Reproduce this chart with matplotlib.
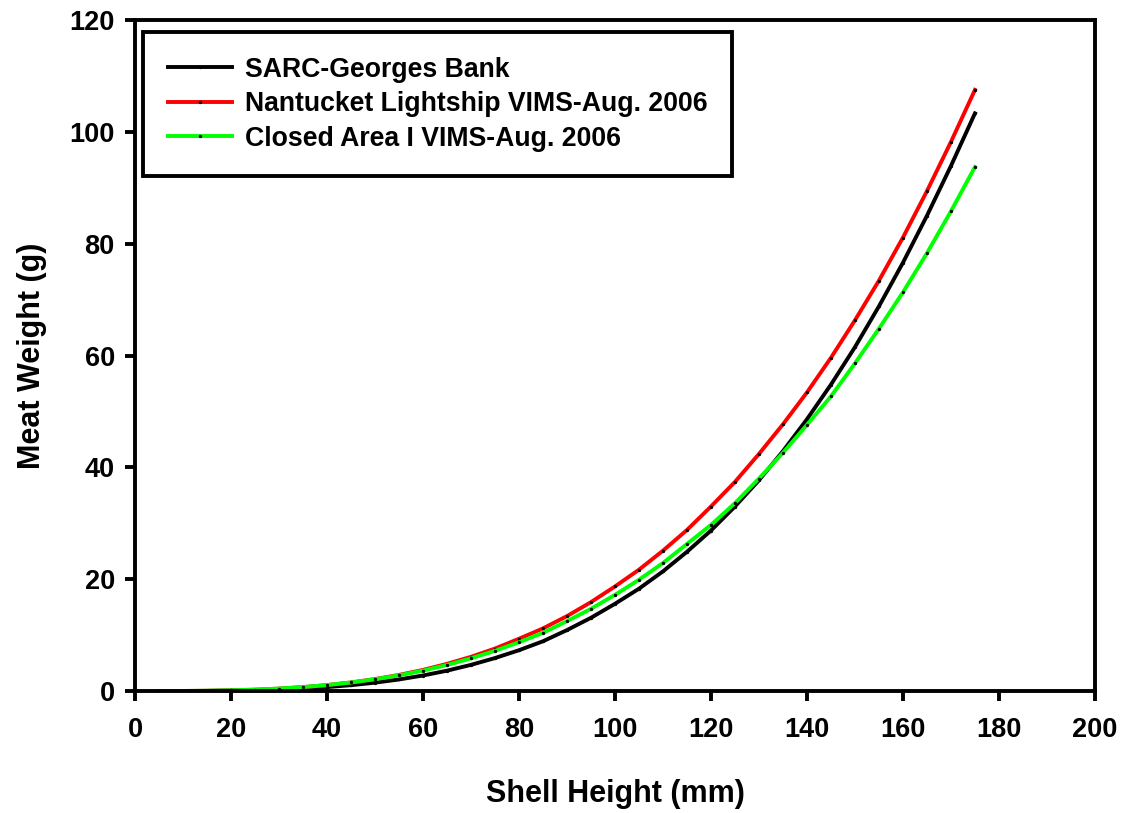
import matplotlib
matplotlib.use("Agg")
from matplotlib import pyplot as plt

plt.rcParams['font.family'] = ['Liberation Sans', 'DejaVu Sans']
plt.rcParams['font.weight'] = 'bold'

# shell height (mm)
height = [5, 10, 15, 20, 25, 30, 35, 40, 45, 50, 55, 60, 65, 70, 75, 80, 85, 90,
          95, 100, 105, 110, 115, 120, 125, 130, 135, 140, 145, 150, 155, 160,
          165, 170, 175]

# meat weight (g)
sarc = [0.001, 0.007, 0.026, 0.07, 0.14, 0.27, 0.45, 0.71, 1.05, 1.50, 2.07,
        2.78, 3.64, 4.68, 5.90, 7.3, 8.9, 10.9, 13.1, 15.6, 18.3, 21.4, 24.9,
        28.7, 33.0, 37.7, 42.9, 48.6, 54.8, 61.5, 68.8, 76.6, 85.0, 93.9, 103.3]
nantucket = [0.002, 0.014, 0.05, 0.12, 0.24, 0.43, 0.70, 1.06, 1.54, 2.14, 2.88,
             3.78, 4.86, 6.12, 7.60, 9.35, 11.2, 13.4, 15.9, 18.7, 21.7, 25.1,
             28.8, 33.0, 37.4, 42.4, 47.7, 53.4, 59.6, 66.3, 73.4, 81.1, 89.4,
             98.2, 107.5]
closed1 = [0.002, 0.016, 0.055, 0.13, 0.26, 0.45, 0.71, 1.07, 1.53, 2.11, 2.81,
           3.66, 4.66, 5.84, 7.19, 8.72, 10.4, 12.5, 14.7, 17.2, 19.9, 22.9,
           26.3, 29.7, 33.6, 38.0, 42.6, 47.6, 52.7, 58.6, 64.8, 71.3, 78.3,
           85.8, 93.7]

labels = ["SARC-Georges Bank", "Nantucket Lightship VIMS-Aug. 2006",
          "Closed Area I VIMS-Aug. 2006"]

fig = plt.figure(figsize=(11.23, 8.13), dpi=100)
ax = fig.add_axes([0.1202, 0.150, 0.8548, 0.8254])

lw = 2.8
ax.plot(height, sarc, color="black", lw=lw, marker=".", ms=2.8,
        mfc="black", mec="black", label=labels[0])
ax.plot(height, nantucket, color="#ff0000", lw=lw, marker=".", ms=2.8,
        mfc="black", mec="black", label=labels[1])
ax.plot(height, closed1, color="#00ff00", lw=lw, marker=".", ms=2.8,
        mfc="black", mec="black", label=labels[2])

ax.set_xlim(0, 200)
ax.set_ylim(0, 120)
ax.set_xticks(range(0, 201, 20))
ax.set_yticks(range(0, 121, 20))

for s in ax.spines.values():
    s.set_linewidth(2.8)
ax.tick_params(direction="out", length=7.5, width=2.8, labelsize=19.5)
ax.tick_params(axis="x", pad=11)
ax.tick_params(axis="y", pad=7)

ax.set_xlabel("Shell Height (mm)", fontsize=22, fontweight="bold", labelpad=26)
ax.set_ylabel("Meat Weight (g)", fontsize=22, fontweight="bold", labelpad=16)

leg = ax.legend(loc="upper left", bbox_to_anchor=(8 / 960, 1 - 12 / 671),
                borderaxespad=0, fancybox=False, shadow=False, framealpha=1,
                edgecolor="black", fontsize=19.2, handlelength=2.4,
                handletextpad=0.5, labelspacing=0.32, borderpad=0.92)
leg.get_frame().set_linewidth(2.8)
for t in leg.get_texts():
    t.set_fontweight("bold")

fig.savefig("out.png", dpi=100)
